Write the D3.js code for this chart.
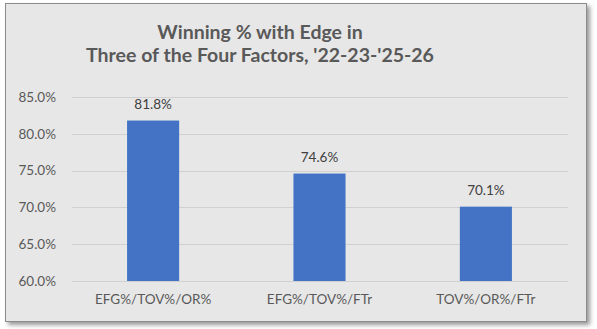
<!DOCTYPE html>
<html><head><meta charset="utf-8">
<script src="https://cdn.jsdelivr.net/npm/d3@7"></script>
<style>body{margin:0;background:#fff;}svg{display:block;}</style>
</head><body>
<script>
const categories = ["EFG%/TOV%/OR%", "EFG%/TOV%/FTr", "TOV%/OR%/FTr"];
const values = [81.8, 74.6, 70.1];
const yTicks = [60, 65, 70, 75, 80, 85];
const titleLines = ["Winning % with Edge in", "Three of the Four Factors, '22-23-'25-26"];

const W = 597, H = 329;
const svg = d3.select("body").append("svg").attr("width", W).attr("height", H);
const defs = svg.append("defs");
const f = defs.append("filter").attr("id","sh").attr("x","-5%").attr("y","-5%").attr("width","115%").attr("height","115%");
f.append("feDropShadow").attr("dx",3).attr("dy",3).attr("stdDeviation",2).attr("flood-color","#000").attr("flood-opacity",0.4);

svg.append("rect").attr("x",5.5).attr("y",3.5).attr("width",581).attr("height",318)
  .attr("fill","#e7e7e7").attr("stroke","#8c8c8c").attr("stroke-width",1).attr("filter","url(#sh)");

const font = "Lato, 'Open Sans', sans-serif";
const x = d3.scaleBand().domain(categories).range([70, 569]).paddingInner(0.687).paddingOuter(0.343);
const y = d3.scaleLinear().domain([60, 85]).range([281, 97]);

const grid = svg.append("g");
grid.selectAll("line").data(yTicks).join("line")
  .attr("x1",72).attr("x2",568).attr("y1",d=>Math.round(y(d))+0.5).attr("y2",d=>Math.round(y(d))+0.5)
  .attr("stroke","#d0d0d0").attr("stroke-width",1);

const yAxis = svg.append("g").attr("transform","translate(56,0)")
  .call(d3.axisLeft(y).tickValues(yTicks).tickSize(0).tickPadding(0).tickFormat(d=>d.toFixed(1)+"%"));
yAxis.select(".domain").remove();
yAxis.selectAll("text").attr("font-family",font).attr("font-size",13.5).attr("fill","#595959");

svg.append("g").selectAll("rect").data(values).join("rect")
  .attr("x",(d,i)=>x(categories[i])).attr("width",x.bandwidth())
  .attr("y",d=>y(d)).attr("height",d=>y(60)-y(d)).attr("fill","#4472c4");

svg.append("g").selectAll("text").data(values).join("text")
  .attr("x",(d,i)=>x(categories[i])+x.bandwidth()/2).attr("y",d=>y(d)-12)
  .attr("text-anchor","middle").attr("font-family",font).attr("font-size",13.5).attr("fill","#404040")
  .text(d=>d.toFixed(1)+"%");

const xAxis = svg.append("g").attr("transform","translate(0,281)")
  .call(d3.axisBottom(x).tickSize(0).tickPadding(13));
xAxis.select(".domain").remove();
xAxis.selectAll("text").attr("font-family",font).attr("font-size",13.5).attr("fill","#595959");

svg.append("g").selectAll("text").data(titleLines).join("text")
  .attr("x",260).attr("y",(d,i)=>39+i*23).attr("text-anchor","middle")
  .attr("font-family",font).attr("font-weight","bold").attr("font-size",19.5).attr("fill","#595959")
  .text(d=>d);
</script>
</body></html>
